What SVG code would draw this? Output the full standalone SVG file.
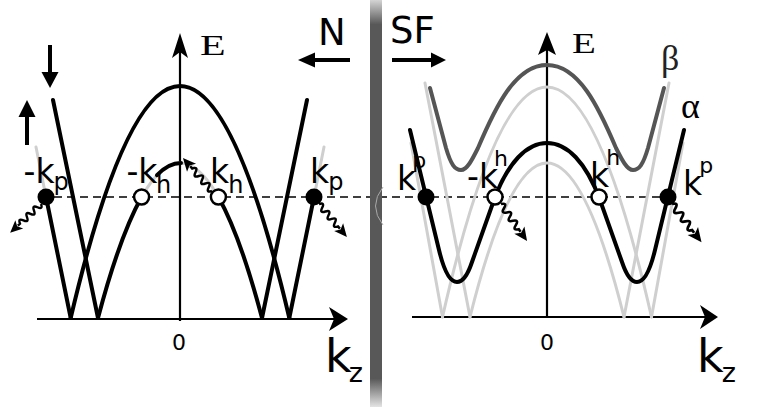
<svg xmlns="http://www.w3.org/2000/svg" width="765" height="407" viewBox="0 0 765 407">
<defs>
<style>
.band{fill:none;stroke:#000;stroke-width:4;stroke-linecap:round}
.lg{fill:none;stroke:#cfcfcf;stroke-width:3;stroke-linecap:round}
.dg{fill:none;stroke:#555;stroke-width:4;stroke-linecap:round}
.axis{fill:none;stroke:#000;stroke-width:2.2}
.arr{fill:none;stroke:#000;stroke-width:4}
.lbl{font-family:"DejaVu Sans",sans-serif;fill:#000}
.dot{fill:#000}
.hole{fill:#fff;stroke:#000;stroke-width:2.5}
.dash{stroke:#000;stroke-width:1.5;stroke-dasharray:8 5}
</style>
<linearGradient id="bar" x1="0" y1="0" x2="0" y2="1">
<stop offset="0" stop-color="#d4d4d4"/>
<stop offset="0.06" stop-color="#585858"/>
<stop offset="0.93" stop-color="#585858"/>
<stop offset="1" stop-color="#e4e4e4"/>
</linearGradient>
<g id="wave">
<path d="M0,0 q2.5,-6 5,0 t5,0 t5,0 t5,0 t5,0 t5,0 L33,0" fill="none" stroke="#000" stroke-width="2.5"/>
<path d="M44,0 L31,-6 L34,0 L31,6 Z" fill="#000"/>
</g>
</defs>
<rect width="765" height="407" fill="#fff"/>

<g id="dashed-level">
<line class="dash" x1="54" y1="197" x2="664" y2="197"/>
</g>

<g id="left-panel">
<g id="left-axes">
<line class="axis" x1="180" y1="321" x2="180" y2="52"/>
<path d="M180,33 L188,58 L180,52 L172,58 Z"/>
<line class="axis" x1="37" y1="319" x2="334" y2="319"/>
<path d="M348,319 L329,307 L334,319 L329,331 Z"/>
</g>
<g id="left-bands">
<path class="band" d="M70.7,318 Q180,-146 289.3,318"/>
<path class="lg" d="M141.6,197 Q180,129 218.4,197"/>
<path class="band" d="M157,175.2 Q168.5,163 181,163"/>
<path class="band" d="M98,318 Q119.8,235.7 141.6,197"/>
<path class="band" d="M218.4,197 Q240.2,235.7 262,318"/>
<path class="band" d="M53,100 L98,318 M307,100 L262,318"/>
<path class="lg" d="M36,147 L46,197 M324,147 L314,197"/>
<path class="band" d="M46,197 L70.7,318 M314,197 L289.3,318"/>
</g>
<g id="left-states">
<circle class="dot" cx="46" cy="197" r="8.5"/>
<circle class="dot" cx="314" cy="197" r="8.5"/>
<circle class="hole" cx="141.6" cy="197" r="7.5"/>
<circle class="hole" cx="218.4" cy="197" r="7.5"/>
</g>
<g id="left-labels">
<text class="lbl" font-size="33" x="23.5" y="183">-k<tspan font-size="24" dx="-1" dy="7">p</tspan></text>
<text class="lbl" font-size="33" x="126.4" y="183">-k<tspan font-size="24" dx="-1.5" dy="10">h</tspan></text>
<text class="lbl" font-size="33" x="210" y="183">k<tspan font-size="24" dx="-1" dy="10">h</tspan></text>
<text class="lbl" font-size="33" x="310" y="183">k<tspan font-size="24" dx="-1" dy="7">p</tspan></text>
<text font-family="Liberation Serif" font-size="30" fill="#000" transform="translate(200,55) scale(1.4,1)">E</text>
<text class="lbl" font-size="37" x="318" y="45">N</text>
<text class="lbl" font-size="22" x="179" y="350" text-anchor="middle">0</text>
<text class="lbl" font-size="46" x="325" y="372">k<tspan font-size="27" dx="-3" dy="10">z</tspan></text>
</g>
</g>

<g id="right-panel">
<g id="right-axes">
<line class="axis" x1="547" y1="318" x2="547" y2="50"/>
<path d="M547,32 L556,55 L547,50 L538,55 Z"/>
<line class="axis" x1="412" y1="317" x2="705" y2="317"/>
<path d="M718,317 L700,305 L705,317 L700,329 Z"/>
</g>
<g id="right-bands">
<path class="lg" d="M442.5,317 Q547,-143 651.5,317"/>
<path class="lg" d="M470,317 Q547,9 624,317"/>
<path class="lg" d="M425,83 L470,317 M669,83 L624,317"/>
<path class="lg" d="M411,143 L442.5,317 M683,143 L651.5,317"/>
<path class="dg" d="M430,88 L446,148 C451,165 455,170 461,170 C467,170 472,160 478,148 C495,108 515,65 547,65 C579,65 599,108 616,148 C622,160 627,170 633,170 C639,170 643,165 648,148 L664,88"/>
<path class="band" d="M410,130 L439,250 C445,275 451,282 457,282 C463,282 468,274 472,262 L494,200 C508,162 527,143 547,143 C567,143 586,162 600,200 L622,262 C626,274 631,282 637,282 C643,282 649,275 655,250 L684,130"/>
</g>
<g id="right-states">
<circle class="dot" cx="426" cy="197" r="8.5"/>
<circle class="dot" cx="668" cy="197" r="8.5"/>
<circle class="hole" cx="495" cy="197" r="7.5"/>
<circle class="hole" cx="599" cy="197" r="7.5"/>
</g>
<g id="right-labels">
<text class="lbl" font-size="33" x="397" y="190">k<tspan font-size="22" dx="-4" dy="-22">p</tspan></text>
<text class="lbl" font-size="33" x="467" y="188">-k<tspan font-size="22" dx="-4" dy="-22">h</tspan></text>
<text class="lbl" font-size="33" x="590" y="187">k<tspan font-size="22" dx="-3" dy="-22">h</tspan></text>
<text class="lbl" font-size="33" x="683" y="195">k<tspan font-size="22" dx="-3" dy="-22">p</tspan></text>
<text font-family="Liberation Serif" font-size="30" fill="#000" transform="translate(572,53) scale(1.3,1)">E</text>
<text class="lbl" font-size="37" x="390" y="43">SF</text>
<text font-family="Liberation Serif" font-size="36" x="661" y="70" fill="#222">β</text>
<text font-family="Liberation Serif" font-size="36" x="681" y="118" fill="#000">α</text>
<text class="lbl" font-size="22" x="547" y="350" text-anchor="middle">0</text>
<text class="lbl" font-size="46" x="697" y="372">k<tspan font-size="27" dx="-2" dy="10">z</tspan></text>
</g>
</g>

<g id="separator">
<rect x="370" y="0" width="12" height="407" fill="url(#bar)"/>
<path d="M383,187 Q368,206 383,225" fill="none" stroke="#aaa" stroke-width="1"/>
</g>

<g id="connectors">
<line class="arr" x1="50" y1="45" x2="50" y2="74"/>
<path d="M50,88 L41.5,72 L58.5,72 Z"/>
<line class="arr" x1="27" y1="145" x2="27" y2="114"/>
<path d="M27,100 L18.5,117 L35.5,117 Z"/>
<line class="arr" x1="350" y1="60" x2="312" y2="60"/>
<path d="M298,60 L315,52.5 L315,67.5 Z"/>
<line class="arr" x1="392" y1="60" x2="434" y2="60"/>
<path d="M446,60 L431,52.5 L431,67.5 Z"/>
<use href="#wave" transform="translate(41,204) rotate(136.9) scale(0.96)"/>
<use href="#wave" transform="translate(319,204) rotate(49.7) scale(0.98)"/>
<use href="#wave" transform="translate(212,191) rotate(-131.3)"/>
<use href="#wave" transform="translate(501,204) rotate(54.9) scale(1.03)"/>
<use href="#wave" transform="translate(672,204) rotate(52.4) scale(1.1)"/>
</g>
</svg>
